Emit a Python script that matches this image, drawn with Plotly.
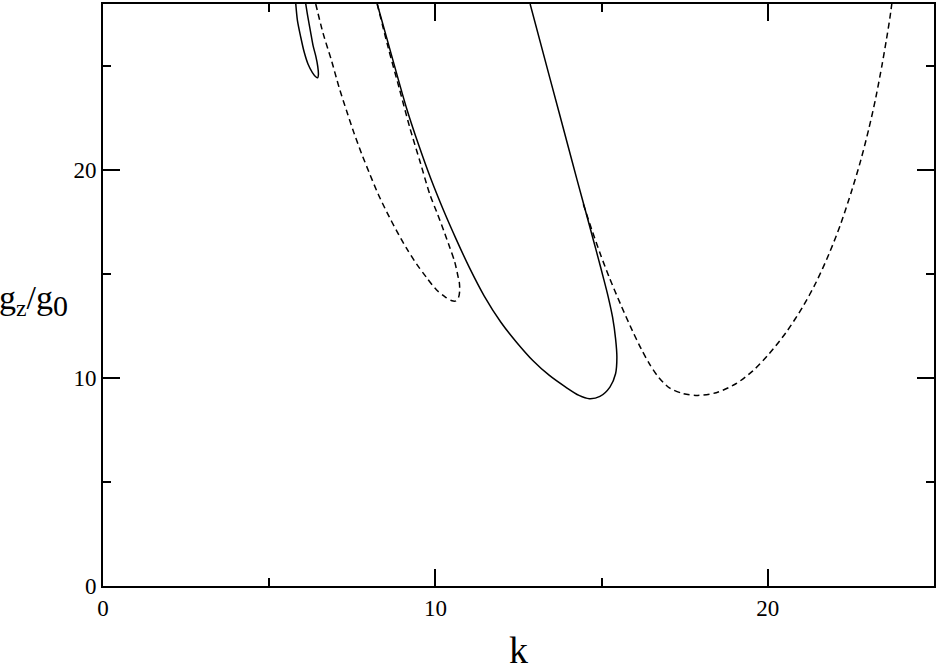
import plotly.graph_objects as go

# small solid loop near k ~ 6
loop_a_k = [5.80, 5.85, 5.95, 6.05, 6.17, 6.30, 6.40, 6.46, 6.48, 6.46, 6.40, 6.32, 6.24, 6.16, 6.10]
loop_a_g = [28.0, 27.2, 26.4, 25.7, 25.1, 24.7, 24.5, 24.45, 24.6, 25.0, 25.5, 26.0, 26.7, 27.4, 28.0]

# dashed loop ending near k ~ 10.6
loop_b_k = [6.40, 6.62, 6.88, 7.10, 7.33, 7.55, 7.78, 8.03, 8.28, 8.55, 8.83, 9.13, 9.43, 9.73,
            10.03, 10.30, 10.50, 10.62, 10.70, 10.73, 10.72, 10.68, 10.58, 10.43, 10.25, 10.05,
            9.83, 9.55, 9.23, 8.92, 8.58, 8.25]
loop_b_g = [28.0, 26.6, 25.25, 24.0, 22.85, 21.8, 20.8, 19.8, 18.85, 17.95, 17.1, 16.25, 15.5, 14.85,
            14.25, 13.9, 13.72, 13.72, 13.9, 14.2, 14.6, 14.9, 15.6, 16.3, 17.1, 17.95,
            18.85, 20.35, 22.05, 23.9, 25.9, 28.0]

# large solid loop, minimum near k ~ 14.6
loop_c_k = [8.25, 8.73, 9.13, 9.50, 9.86, 10.25, 10.62, 11.02, 11.47, 11.97, 12.44, 12.93, 13.43,
            13.92, 14.32, 14.63, 14.95, 15.25, 15.42, 15.46, 15.42, 15.33, 15.20, 15.05, 14.91,
            14.76, 14.49, 14.26, 14.03, 13.45, 12.85]
loop_c_g = [28.0, 25.25, 23.0, 21.2, 19.6, 18.05, 16.7, 15.33, 13.95, 12.69, 11.73, 10.85, 10.13,
            9.57, 9.17, 9.01, 9.12, 9.57, 10.21, 11.0, 11.9, 12.93, 13.9, 14.85, 15.7,
            16.6, 18.2, 19.55, 20.93, 24.4, 28.0]

# dashed branch, minimum near k ~ 17.9
branch_d_k = [14.45, 14.73, 14.98, 15.23, 15.58, 15.93, 16.20, 16.43, 16.68, 17.04, 17.45, 17.89,
              18.45, 19.04, 19.55, 20.04, 20.55, 21.04, 21.45, 21.84, 22.20, 22.54, 22.80, 23.04,
              23.25, 23.44, 23.57, 23.67, 23.73]
branch_d_g = [18.37, 17.02, 15.89, 14.85, 13.52, 12.27, 11.38, 10.71, 10.11, 9.53, 9.26, 9.17,
              9.3, 9.73, 10.35, 11.17, 12.2, 13.4, 14.6, 15.97, 17.45, 19.1, 20.5, 22.0,
              23.5, 25.1, 26.3, 27.3, 28.0]

x_ticks = [0, 10, 20]
y_ticks = [0, 10, 20]

FONT = "Liberation Serif"

fig = go.Figure()
for kk, gg, dash in [(loop_a_k, loop_a_g, "solid"), (loop_b_k, loop_b_g, "6px,4px"),
                     (loop_c_k, loop_c_g, "solid"), (branch_d_k, branch_d_g, "6px,4px")]:
    fig.add_trace(go.Scatter(x=kk, y=gg, mode="lines",
                             line=dict(color="black", width=1.5, dash=dash, shape="spline", smoothing=0.8),
                             showlegend=False))

axis_style = dict(showline=True, linecolor="black", linewidth=2, mirror="ticks",
                  ticks="inside", ticklen=17, tickwidth=1.5, tickcolor="black",
                  showgrid=False, zeroline=False,
                  tickfont=dict(family=FONT, size=23, color="black"),
                  minor=dict(ticks="inside", ticklen=8, tickwidth=1.5, tickcolor="black", dtick=5))

fig.update_xaxes(range=[0, 25], tickvals=x_ticks, **axis_style)
fig.update_yaxes(range=[0, 28], tickvals=y_ticks, **axis_style)

# axis titles as annotations so they do not push the margins
fig.add_annotation(text="k", xref="paper", yref="paper", x=0.5, y=0, xanchor="center",
                   yanchor="middle", yshift=-64, showarrow=False,
                   font=dict(family=FONT, size=38, color="black"))
fig.add_annotation(text="g<sub>z</sub>/g<sub><span style='font-size:30px'>0</span></sub>",
                   xref="paper", yref="paper", x=0, y=0.49, xanchor="right", yanchor="middle",
                   xshift=-33, showarrow=False, font=dict(family=FONT, size=34, color="black"))

fig.update_layout(width=938, height=667, margin=dict(l=103, r=2, t=2, b=81),
                  plot_bgcolor="white", paper_bgcolor="white")

fig.write_html("out.html", config={"displayModeBar": False},
               post_script="document.body.style.margin='0px';")
